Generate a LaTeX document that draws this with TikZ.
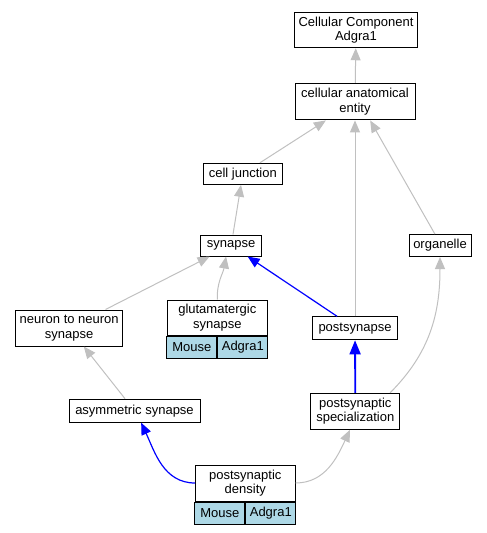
\documentclass[tikz,border=0pt]{standalone}
\usepackage{fontspec}
\setmainfont{Liberation Sans}
\usetikzlibrary{arrows.meta}
\definecolor{edgegray}{HTML}{C0C0C0}
\definecolor{cellblue}{HTML}{ADD8E6}

\begin{document}
\begin{tikzpicture}[x=1pt,y=-1pt,
   term/.style={draw, line width=1pt, fill=white, align=center, inner sep=0pt,
     font=\fontsize{13}{14.5}\selectfont},
   cell/.style={term, fill=cellblue, minimum width=50pt, minimum height=22pt},
   isa/.style={draw=edgegray, line width=1pt, -{Triangle[length=12pt,width=10pt]}},
   partof/.style={draw=blue, line width=1.2pt, -{Triangle[length=12pt,width=10pt]}}]
 \useasboundingbox (0,0) rectangle (487,533);
 \node (cc) [term, minimum width=123.5pt, minimum height=35.5pt] at (356,30) {Cellular Component\\Adgra1};
 \node (cae) [term, minimum width=120pt, minimum height=36.5pt] at (355,101.7) {cellular anatomical\\entity};
 \node (cj) [term, minimum width=79pt, minimum height=21pt] at (242.8,173.8) {cell junction};
 \node (syn) [term, minimum width=61pt, minimum height=21pt] at (231.2,245.5) {synapse};
 \node (org) [term, minimum width=62pt, minimum height=22pt] at (440,245.5) {organelle};
 \node (n2n) [term, minimum width=107pt, minimum height=36pt] at (69.2,328) {neuron to neuron\\synapse};
 \node (glu) [term, minimum width=100pt, minimum height=35pt] at (217.3,317.5) {glutamatergic\\synapse};
 \node (glum) [cell, anchor=north east] at (glu.south) {Mouse};
 \node (glua) [cell, anchor=north west] at (glu.south) {Adgra1};
 \node (psyn) [term, minimum width=85pt, minimum height=23pt] at (355,328.3) {postsynapse};
 \node (asym) [term, minimum width=131pt, minimum height=23pt] at (134.5,410.7) {asymmetric synapse};
 \node (pss) [term, minimum width=89pt, minimum height=36pt] at (355.3,411.3) {postsynaptic\\specialization};
 \node (psd) [term, minimum width=99.5pt, minimum height=36pt] at (245.3,483) {postsynaptic\\density};
 \node (psdm) [cell, anchor=north east] at (psd.south) {Mouse};
 \node (psda) [cell, anchor=north west] at (psd.south) {Adgra1};

 \draw[isa] (cae) -- (cc);
 \draw[isa] (cj) -- (cae);
 \draw[isa] (syn) -- (cj);
 \draw[isa] (org.114) -- (cae.-51);
 \draw[isa] (psyn) -- (cae);
 \draw[isa] (n2n) -- (syn);
 \draw[isa] (glu.north) to[out=92,in=-100] (syn.-115);
 \draw[partof] (psyn) -- (syn);
 \draw[partof, line width=1.8pt, -{Triangle[length=14pt,width=11pt]}] (pss) -- (psyn);
 \draw[isa] (pss.28) to[out=45,in=-90] (org.south);
 \draw[isa] (asym) -- (n2n);
 \draw[partof] (psd.west) to[out=180,in=-65] (asym.-61);
 \draw[isa] (psd.east) to[out=0,in=-115] (pss.-106);
\end{tikzpicture}
\end{document}
